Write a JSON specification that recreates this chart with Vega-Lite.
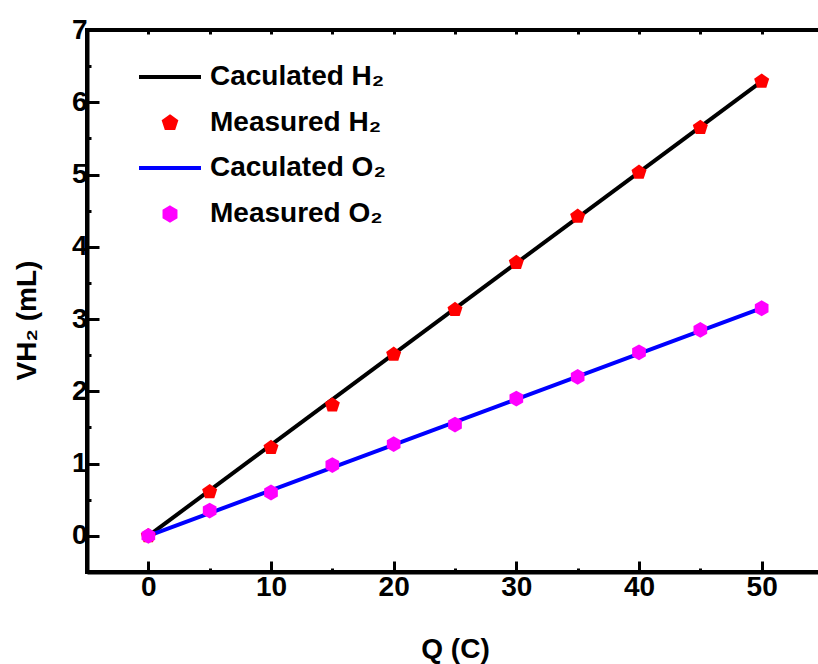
{
  "$schema": "https://vega.github.io/schema/vega-lite/v6.json",
  "width": 736,
  "height": 542,
  "autosize": {"type": "none"},
  "padding": {"left": 87, "top": 30, "right": 0, "bottom": 92},
  "background": "white",
  "config": {
    "view": {"stroke": "black", "strokeWidth": 4},
    "font": "Liberation Sans, Arial, sans-serif",
    "axis": {
      "domainColor": "black", "domainWidth": 4, "tickColor": "black", "tickWidth": 3, "tickOpacity": 1,
      "labelFont": "Liberation Sans, Arial, sans-serif",
      "labelFontSize": 28, "labelFontWeight": "bold", "labelColor": "black",
      "titleFont": "Liberation Sans, Arial, sans-serif",
      "titleFontSize": 28, "titleFontWeight": "bold", "titleColor": "black",
      "grid": false, "zindex": 1
    },
    "legend": {
      "labelFont": "Liberation Sans, Arial, sans-serif",
      "labelFontSize": 28, "labelFontWeight": "bold", "labelColor": "black", "labelLimit": 400
    }
  },
  "datasets": {
    "calc": [
      {"Q": 0, "V": 0, "series": "Caculated H₂"},
      {"Q": 50, "V": 6.29, "series": "Caculated H₂"},
      {"Q": 0, "V": 0, "series": "Caculated O₂"},
      {"Q": 50, "V": 3.15, "series": "Caculated O₂"}
    ],
    "meas": [
      {"Q": 0, "V": 0, "series": "Measured H₂"},
      {"Q": 5, "V": 0.61, "series": "Measured H₂"},
      {"Q": 10, "V": 1.22, "series": "Measured H₂"},
      {"Q": 15, "V": 1.81, "series": "Measured H₂"},
      {"Q": 20, "V": 2.51, "series": "Measured H₂"},
      {"Q": 25, "V": 3.13, "series": "Measured H₂"},
      {"Q": 30, "V": 3.78, "series": "Measured H₂"},
      {"Q": 35, "V": 4.42, "series": "Measured H₂"},
      {"Q": 40, "V": 5.03, "series": "Measured H₂"},
      {"Q": 45, "V": 5.65, "series": "Measured H₂"},
      {"Q": 50, "V": 6.29, "series": "Measured H₂"},
      {"Q": 0, "V": 0, "series": "Measured O₂"},
      {"Q": 5, "V": 0.35, "series": "Measured O₂"},
      {"Q": 10, "V": 0.6, "series": "Measured O₂"},
      {"Q": 15, "V": 0.98, "series": "Measured O₂"},
      {"Q": 20, "V": 1.27, "series": "Measured O₂"},
      {"Q": 25, "V": 1.54, "series": "Measured O₂"},
      {"Q": 30, "V": 1.9, "series": "Measured O₂"},
      {"Q": 35, "V": 2.2, "series": "Measured O₂"},
      {"Q": 40, "V": 2.54, "series": "Measured O₂"},
      {"Q": 45, "V": 2.85, "series": "Measured O₂"},
      {"Q": 50, "V": 3.15, "series": "Measured O₂"}
    ]
  },
  "resolve": {"axis": {"x": "independent", "y": "independent"}},
  "layer": [
    {
      "data": {"name": "calc"},
      "mark": {"type": "line", "strokeWidth": 4},
      "encoding": {
        "x": {"field": "Q", "type": "quantitative", "scale": {"domain": [-5, 55], "nice": false, "zero": false},
          "axis": {"orient": "bottom", "values": [0, 10, 20, 30, 40, 50], "tickSize": -11, "labelPadding": 12,
            "title": "Q (C)", "titlePadding": 34,
            "encode": {"ticks": {"update": {"y2": {"value": -11}}}}}},
        "y": {"field": "V", "type": "quantitative", "scale": {"domain": [-0.5, 7], "nice": false, "zero": false},
          "axis": {"orient": "left", "values": [0, 1, 2, 3, 4, 5, 6, 7], "tickSize": -12, "labelPadding": 12,
            "title": "VH₂ (mL)", "titlePadding": 30, "titleY": 290,
            "encode": {"ticks": {"update": {"x2": {"value": 12}}}}}},
        "color": {"field": "series", "type": "nominal",
          "scale": {"domain": ["Caculated H₂", "Measured H₂", "Caculated O₂", "Measured O₂"], "range": ["black", "red", "blue", "magenta"]},
          "legend": {"title": null, "orient": "none", "legendX": 69, "legendY": 33, "padding": 0, "labelOffset": 26, "rowPadding": 17,
            "symbolSize": 160, "symbolStrokeWidth": 4}
        }
      }
    },
    {
      "data": {"name": "meas"},
      "mark": {"type": "point", "filled": true, "opacity": 1, "size": 250},
      "encoding": {
        "x": {"field": "Q", "type": "quantitative",
          "axis": {"orient": "bottom", "values": [5, 15, 25, 35, 45], "tickSize": -4, "labels": false, "domain": false, "title": null,
            "encode": {"ticks": {"update": {"y2": {"value": -4}}}}}},
        "y": {"field": "V", "type": "quantitative",
          "axis": {"orient": "left", "values": [-0.5, 0.5, 1.5, 2.5, 3.5, 4.5, 5.5, 6.5], "tickSize": -4, "labels": false, "domain": false, "title": null,
            "encode": {"ticks": {"update": {"x2": {"value": 4}}}}}},
        "color": {"field": "series", "type": "nominal"},
        "shape": {"field": "series", "type": "nominal",
          "scale": {"domain": ["Caculated H₂", "Measured H₂", "Caculated O₂", "Measured O₂"],
            "range": ["M-4.9,0L4.9,0", "M0,-1L0.951,-0.309L0.588,0.809L-0.588,0.809L-0.951,-0.309Z", "M-4.9,0L4.9,0", "M0,-1L0.866,-0.5L0.866,0.5L0,1L-0.866,0.5L-0.866,-0.5Z"]},
          "legend": {"title": null, "orient": "none", "legendX": 69, "legendY": 33, "padding": 0, "labelOffset": 26, "rowPadding": 17,
            "symbolSize": 160, "symbolStrokeWidth": 4}
        }
      }
    },
    {
      "data": {"name": "meas"},
      "mark": {"type": "point", "opacity": 0},
      "encoding": {
        "x": {"field": "Q", "type": "quantitative",
          "axis": {"orient": "top", "values": [0, 5, 10, 15, 20, 25, 30, 35, 40, 45, 50], "tickSize": -4, "labels": false, "domain": false, "title": null,
            "encode": {"ticks": {"update": {"y2": {"value": 4}}}}}},
        "y": {"field": "V", "type": "quantitative", "axis": null}
      }
    }
  ]
}
